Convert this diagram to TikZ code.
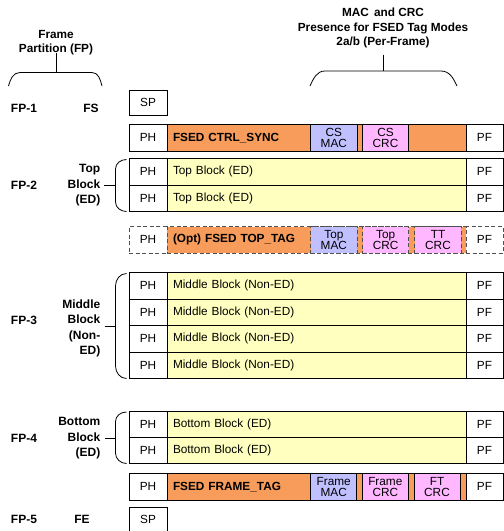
\documentclass[tikz,border=0pt]{standalone}
\usepackage{fontspec}
\setmainfont{Liberation Sans}
\definecolor{orangefill}{HTML}{F79C5A}
\definecolor{yellowfill}{HTML}{FFFFC0}
\definecolor{macfill}{HTML}{C0C0FF}
\definecolor{crcfill}{HTML}{FFB8FF}
\definecolor{dashgray}{HTML}{505050}
\tikzset{
  x=1pt, y=-1pt,
  cell/.style={draw=black, line width=0.8pt, fill=white, inner sep=0pt, font=\fontsize{11.8}{12}\selectfont},
  maincell/.style={cell, fill=yellowfill, text width=287pt, inner xsep=6pt, align=left},
  tagcell/.style={maincell, fill=orangefill, font=\fontsize{11.8}{12}\selectfont\bfseries},
  subcell/.style={cell, align=center, font=\fontsize{11.8}{11.3}\selectfont},
  macbox/.style={subcell, fill=macfill, minimum width=46.3pt},
  crcbox/.style={subcell, fill=crcfill, minimum width=46pt},
  optrow/.style={dashed, dash pattern=on 4pt off 2.5pt, draw=dashgray},
  lbl/.style={font=\fontsize{12}{15.5}\selectfont\bfseries, inner sep=0pt},
  brace/.style={draw=black, line width=0.8pt},
  topbrace/.style={draw=black, line width=1pt},
}
\newcommand\stdrow[4]{%
  \node[cell, minimum width=38pt, minimum height=#3] (#1ph) at (148,#2+#3/2) {PH};
  \node[maincell, minimum height=#3] (#1main) at (316.5,#2+#3/2) {#4};
  \node[cell, minimum width=37pt, minimum height=#3] (#1pf) at (484.5,#2+#3/2) {PF};
}
\begin{document}
\begin{tikzpicture}
\useasboundingbox (0,0) rectangle (504,531);
\clip (0,0) rectangle (504,531);

% Titles and top braces
\node[lbl, align=center, font=\fontsize{11.8}{14.3}\selectfont\bfseries] (fptitle) at (56,42.5) {Frame\\Partition (FP)};
\coordinate (fptop) at (56,53);
\coordinate (fpbot) at (56,72.5);
\draw[topbrace] (fptop) -- (fpbot);
\draw[brace] (8.5,86) to[out=75,in=180] (20,72.5) -- (92,72.5) to[out=0,in=105] (102,86);

\node[lbl, align=center, font=\fontsize{11.8}{14.5}\selectfont\bfseries] (mactitle) at (383,28) {MAC\, and CRC\\Presence for FSED Tag Modes\\2a/b (Per-Frame)};
\coordinate (mactop) at (383,54.5);
\coordinate (macbot) at (383,71);
\draw[line width=0.8pt] (mactop) -- (macbot);
\draw[brace] (310,86) to[out=65,in=180] (325,71) -- (441,71) to[out=0,in=115] (457,86);

% FP-1
\node[lbl] (fp1) at (24,108) {FP-1};
\node[lbl] (fs) at (91,108) {FS};
\node[cell, minimum width=38pt, minimum height=25pt] (sp1) at (148,102.5) {SP};

% CTRL_SYNC row
\node[cell, minimum width=38pt, minimum height=27.5pt] (ctrlph) at (148,137.75) {PH};
\node[tagcell, minimum height=27.5pt] (ctrlmain) at (316.5,137.75) {FSED CTRL\_SYNC};
\node[cell, minimum width=37pt, minimum height=27.5pt] (ctrlpf) at (484.5,137.75) {PF};
\node[macbox, minimum height=27.5pt] (csmac) at (333.85,137.75) {CS\\MAC};
\node[crcbox, minimum height=27.5pt] (cscrc) at (385.5,137.75) {CS\\CRC};

% FP-2 top blocks
\stdrow{topa}{158.5}{26.5}{Top Block (ED)}
\stdrow{topb}{185}{26.5}{Top Block (ED)}
\node[lbl] (fp2) at (24,185) {FP-2};
\node[lbl, align=right, anchor=east] (toplbl) at (100.5,185.5) {Top\\Block\\(ED)};
\coordinate (toptick) at (104,185);
\draw[brace] (126.5,159.5) to[out=180,in=90] (115.5,169) -- (115.5,202) to[out=-90,in=180] (126.5,211.5);
\draw[brace] (toptick) -- (115.5,185);

% TOP_TAG row (optional)
\node[cell, optrow, minimum width=38pt, minimum height=26.5pt] (tagph) at (148,239.75) {PH};
\node[tagcell, optrow, minimum height=26.5pt] (tagmain) at (316.5,239.75) {(Opt) FSED TOP\_TAG};
\node[cell, optrow, minimum width=37pt, minimum height=26.5pt] (tagpf) at (484.5,239.75) {PF};
\node[macbox, optrow, minimum height=26.5pt] (topmac) at (333.85,239.75) {Top\\MAC};
\node[crcbox, optrow, minimum height=26.5pt] (topcrc) at (385.6,239.75) {Top\\CRC};
\node[crcbox, optrow, minimum width=46.5pt, minimum height=26.5pt] (ttcrc) at (438,239.75) {TT\\CRC};

% FP-3 middle blocks
\stdrow{mida}{272.5}{26.5}{Middle Block (Non-ED)}
\stdrow{midb}{299}{26.5}{Middle Block (Non-ED)}
\stdrow{midc}{325.5}{26.5}{Middle Block (Non-ED)}
\stdrow{midd}{352}{26.5}{Middle Block (Non-ED)}
\node[lbl] (fp3) at (24,320) {FP-3};
\node[lbl, align=right, anchor=east] (midlbl) at (100.5,328.5) {Middle\\Block\\(Non-\\ED)};
\coordinate (midtick) at (104.5,326.5);
\draw[brace] (126.5,273.5) to[out=180,in=90] (115.5,286) -- (115.5,366) to[out=-90,in=180] (126.5,378.5);
\draw[brace] (midtick) -- (115.5,326.5);

% FP-4 bottom blocks
\stdrow{bota}{411}{26.3}{Bottom Block (ED)}
\stdrow{botb}{437.3}{26.3}{Bottom Block (ED)}
\node[lbl] (fp4) at (24,438) {FP-4};
\node[lbl, align=right, anchor=east] (botlbl) at (100.5,438.5) {Bottom\\Block\\(ED)};
\coordinate (bottick) at (105,438);
\draw[brace] (126.5,412) to[out=180,in=90] (115.5,421.5) -- (115.5,453) to[out=-90,in=180] (126.5,463.5);
\draw[brace] (bottick) -- (115.5,438);

% FRAME_TAG row
\node[cell, minimum width=38pt, minimum height=26.5pt] (frph) at (148,486.75) {PH};
\node[tagcell, minimum height=26.5pt] (frmain) at (316.5,486.75) {FSED FRAME\_TAG};
\node[cell, minimum width=37pt, minimum height=26.5pt] (frpf) at (484.5,486.75) {PF};
\node[macbox, minimum height=26.5pt] (frmac) at (333.7,486.75) {Frame\\MAC};
\node[crcbox, minimum height=26.5pt] (frcrc) at (385.3,486.75) {Frame\\CRC};
\node[crcbox, minimum height=26.5pt] (ftcrc) at (437,486.75) {FT\\CRC};

% FP-5
\node[lbl] (fp5) at (24,519) {FP-5};
\node[lbl] (fe) at (82,519) {FE};
\node[cell, minimum width=38pt, minimum height=25pt] (sp2) at (148,519.5) {SP};
\end{tikzpicture}
\end{document}
